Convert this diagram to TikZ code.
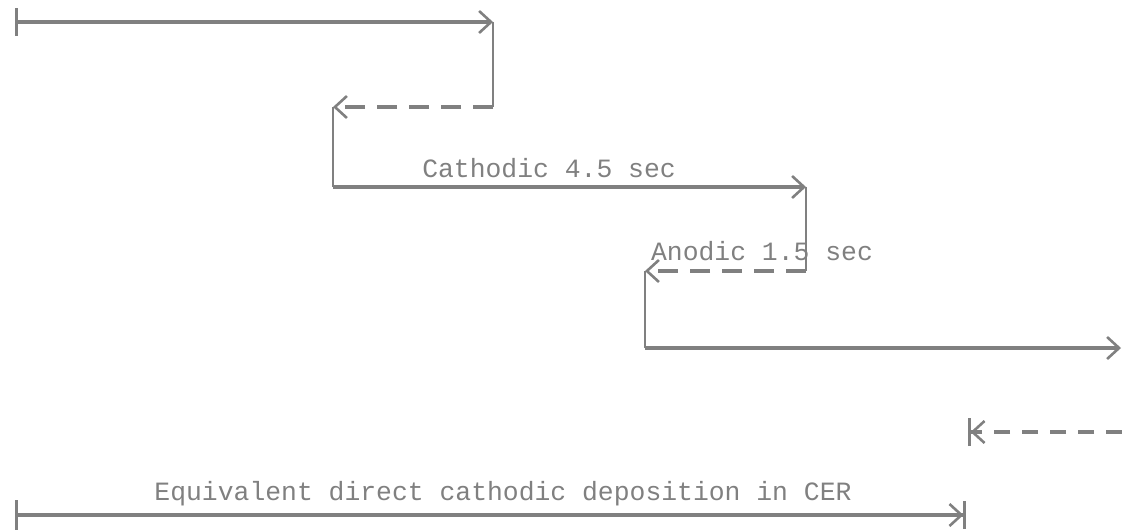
\documentclass[tikz,border=0pt]{standalone}
\usepackage{fontspec}
\setmonofont{Liberation Mono}
\usetikzlibrary{arrows.meta}
\definecolor{ink}{RGB}{128,128,128}

\begin{document}
\begin{tikzpicture}[x=0.5pt,y=-0.5pt,
    fwd/.style={draw=ink, line width=1.7pt, -{Straight Barb[length=6pt,width=11pt,line width=1.3pt]}},
    rev/.style={fwd, dash pattern=on 10pt off 6pt},
    riser/.style={draw=ink, line width=0.8pt},
    lbl/.style={text=ink, font=\ttfamily\fontsize{13.2}{15}\selectfont, inner sep=0pt}
]
\useasboundingbox (0,0) rectangle (1122,529);

% pulse train
\coordinate (c1s) at (15,22);
\coordinate (c1e) at (493,22);
\coordinate (a1s) at (493,107);
\coordinate (a1e) at (333,107);
\coordinate (c2s) at (333,187);
\coordinate (c2e) at (806,187);
\coordinate (a2s) at (806,271);
\coordinate (a2e) at (645,271);
\coordinate (c3s) at (645,348);
\coordinate (c3e) at (1121,348);
\coordinate (a3s) at (1122,432);
\coordinate (a3e) at (968,432);

% equivalent deposition
\coordinate (eqs) at (15,515);
\coordinate (eqe) at (966,515);

\draw[fwd, {Bar[width=14pt,line width=1.3pt]}-{Straight Barb[length=6pt,width=11pt,line width=1.3pt]}] (c1s) -- (c1e);
\draw[riser, line width=1pt] (c1e) -- (a1s);
\draw[rev] (a1s) -- (a1e);
\draw[riser] (a1e) -- (c2s);
\draw[fwd] (c2s) -- (c2e);
\draw[riser] (c2e) -- (a2s);
\draw[rev] (a2s) -- (a2e);
\draw[riser] (a2e) -- (c3s);
\draw[fwd] (c3s) -- (c3e);
\draw[rev, dash pattern=on 8pt off 6pt, -{Straight Barb[length=6pt,width=11pt,line width=1.3pt]Bar[width=14pt,line width=1.3pt]}] (a3s) -- (a3e);

\draw[fwd, {Bar[width=15pt,line width=1.3pt]}-{Straight Barb[length=6pt,width=11pt,line width=1.3pt]Bar[width=14pt,line width=1.3pt]}] (eqs) -- (eqe);

\node[lbl] (cat) at (549,168) {Cathodic 4.5 sec};
\node[lbl] (ano) at (762,251) {Anodic 1.5 sec};
\node[lbl] (equ) at (503,494) {Equivalent direct cathodic deposition in CER};
\end{tikzpicture}
\end{document}
